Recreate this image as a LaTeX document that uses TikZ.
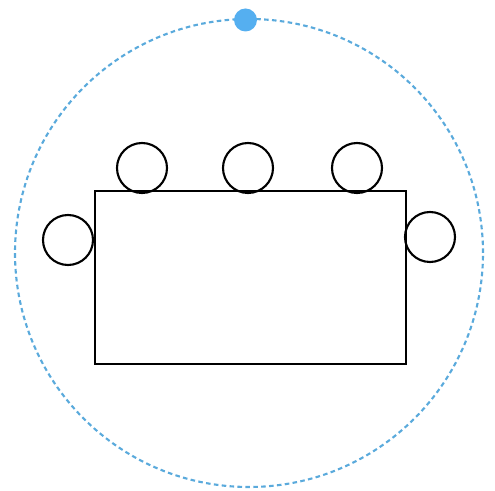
\documentclass[tikz,border=0pt]{standalone}
\usepackage{tikz}
\usetikzlibrary{positioning, calc}
\definecolor{ringblue}{RGB}{90, 170, 220}
\definecolor{dotblue}{RGB}{85, 175, 240}
\tikzstyle{seat} = [draw, circle, minimum size=1cm, line width=1.2pt, inner sep=0pt]
\tikzstyle{tablebox} = [draw, rectangle, minimum width=6.22cm, minimum height=3.46cm, line width=1.2pt, inner sep=0pt]
\tikzstyle{ring} = [ringblue, line width=1.2pt, dash pattern=on 2.6pt off 1.9pt]

\begin{document}
\begin{tikzpicture}
    \useasboundingbox (0,0) rectangle (9.9,9.82);

    % Outer ring
    \coordinate (centre) at (4.98, 4.76);
    \draw[ring] (centre) circle (4.68);
    \node[fill=dotblue, circle, minimum size=0.46cm, inner sep=0pt] (dot) at (4.91, 9.42) {};

    % Table
    \node[tablebox] (table) at (5.01, 4.27) {};

    % Seats along the top
    \foreach \x/\n in {2.84/1, 4.96/2, 7.14/3} {
        \node[seat] (s\n) at (\x, 6.46) {};
    }

    % Seats at the ends
    \node[seat] (sl) at (1.36, 5.02) {};
    \node[seat] (sr) at (8.6, 5.08) {};
\end{tikzpicture}
\end{document}
